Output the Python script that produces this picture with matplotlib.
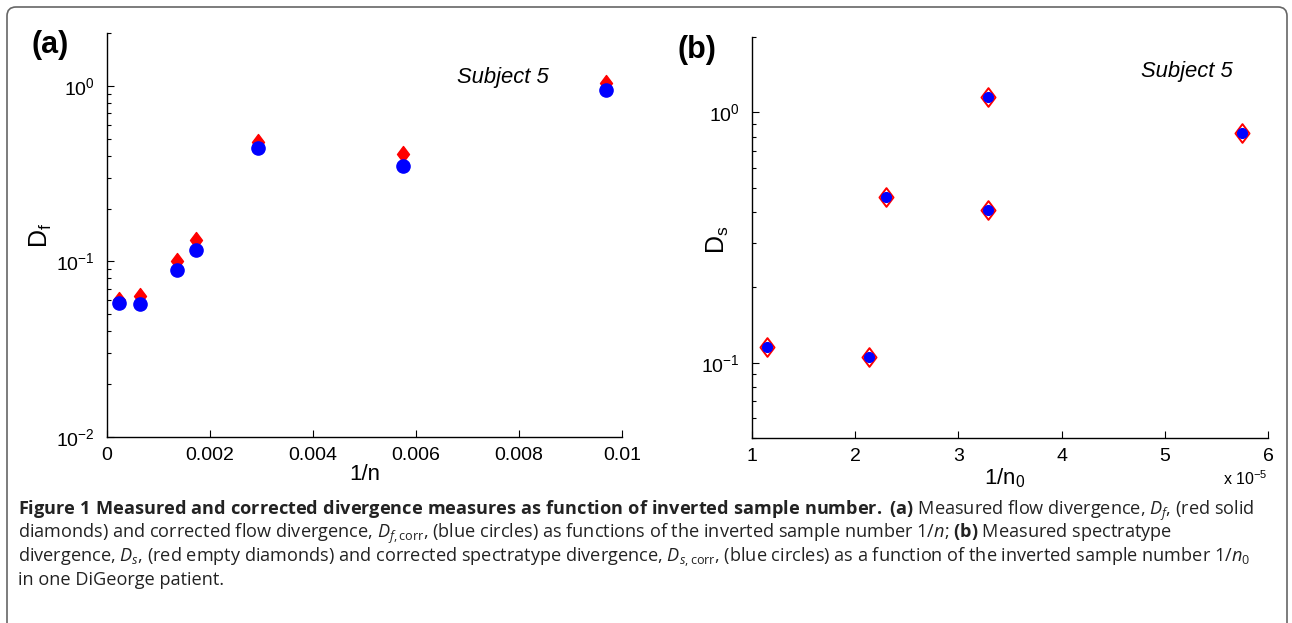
import matplotlib
matplotlib.use("Agg")
import matplotlib.pyplot as plt
from matplotlib.path import Path
from matplotlib.patches import FancyBboxPatch
from matplotlib.transforms import IdentityTransform
from matplotlib.ticker import FixedLocator, FixedFormatter, LogLocator, NullFormatter

plt.rcParams['font.family'] = ['Liberation Sans', 'DejaVu Sans']
plt.rcParams['mathtext.fontset'] = 'custom'
plt.rcParams['mathtext.rm'] = 'Open Sans'
plt.rcParams['mathtext.it'] = 'Open Sans:italic'
plt.rcParams['mathtext.bf'] = 'Open Sans:bold'

# panel (a): flow divergence vs 1/n
inv_n = [0.000225, 0.00064, 0.00136, 0.00172, 0.00293, 0.00574, 0.00969]
df_measured = [0.0602, 0.0638, 0.1009, 0.1323, 0.476, 0.409, 1.033]
df_corrected = [0.0579, 0.0574, 0.0889, 0.1155, 0.445, 0.348, 0.942]
xticks_a = [0, 0.002, 0.004, 0.006, 0.008, 0.01]
xtick_labels_a = ['0', '0.002', '0.004', '0.006', '0.008', '0.01']

# panel (b): spectratype divergence vs 1/n0 (units of 1e-5)
inv_n0 = [1.15, 2.13, 2.30, 3.29, 3.29, 5.75]
ds_measured = [0.1156, 0.1057, 0.4597, 1.151, 0.4089, 0.829]
ds_corrected = [0.1156, 0.1057, 0.4597, 1.151, 0.4089, 0.829]
xticks_b = [1, 2, 3, 4, 5, 6]

W, H = 1292, 623
fig = plt.figure(figsize=(W / 100, H / 100), dpi=100)

# outer frame with rounded corners
frame = FancyBboxPatch((7, -30), 1280, 646, boxstyle="round,pad=0,rounding_size=9",
                       transform=IdentityTransform(), fc='none', ec='#666666', lw=1.2)
fig.patches.append(frame)


def px_axes(left, right, top, bottom):
    return fig.add_axes([left / W, 1 - bottom / H, (right - left) / W, (bottom - top) / H])


diamond = Path([(0, 1), (0.75, 0), (0, -1), (-0.75, 0), (0, 1)], closed=True)


def style_axes(ax):
    ax.set_yscale('log')
    for s in ['top', 'right']:
        ax.spines[s].set_visible(False)
    for s in ['left', 'bottom']:
        ax.spines[s].set_linewidth(1.0)
    ax.tick_params(which='major', direction='in', length=5, width=0.8,
                   labelsize=14, pad=7)
    ax.tick_params(axis='y', which='major', pad=9)
    ax.tick_params(which='minor', direction='in', length=3, width=0.8)
    ax.yaxis.set_minor_locator(LogLocator(base=10, subs=range(2, 10)))
    ax.yaxis.set_minor_formatter(NullFormatter())


# ---- panel (a)
ax1 = px_axes(107, 622, 33, 437)
style_axes(ax1)
ax1.plot(inv_n, df_measured, ls='none', marker=diamond, ms=11.5, color='#ff0000', mec='#ff0000')
ax1.plot(inv_n, df_corrected, ls='none', marker='o', ms=9.5, color='#0000ff', mec='#0000ff')
ax1.set_xlim(0, 0.01)
ax1.set_ylim(0.01, 2.0)
ax1.xaxis.set_major_locator(FixedLocator(xticks_a))
ax1.xaxis.set_major_formatter(FixedFormatter(xtick_labels_a))
ax1.set_yticks([0.01, 0.1, 1])
ax1.set_yticklabels([r'$\mathdefault{10^{-2}}$', r'$\mathdefault{10^{-1}}$', r'$\mathdefault{10^{0}}$'])

fig.text(365 / W, 1 - 475 / H, '1/n', fontsize=16, ha='center', va='center')
fig.text(41 / W, 1 - 235 / H, r'D$_\mathdefault{f}$', fontsize=18, ha='center', va='center', rotation=90)
fig.text(503 / W, 1 - 78 / H, 'Subject 5', fontsize=15.8, style='italic', ha='center', va='center')
fig.text(50 / W, 1 - 45 / H, '(a)', fontsize=22, fontweight='bold', ha='center', va='center')

# ---- panel (b)
ax2 = px_axes(752, 1268, 37, 438)
style_axes(ax2)
ax2.plot(inv_n0, ds_measured, ls='none', marker=diamond, ms=13.5, mfc='none', mec='#ff0000', mew=1.4)
ax2.plot(inv_n0, ds_corrected, ls='none', marker='o', ms=7, color='#0000ff', mec='#0000ff')
ax2.set_xlim(1, 6)
ax2.set_ylim(0.05, 2.0)
ax2.xaxis.set_major_locator(FixedLocator(xticks_b))
ax2.xaxis.set_major_formatter(FixedFormatter([str(t) for t in xticks_b]))
ax2.set_yticks([0.1, 1])
ax2.set_yticklabels([r'$\mathdefault{10^{-1}}$', r'$\mathdefault{10^{0}}$'])

fig.text(1005 / W, 1 - 478 / H, r'1/n$_\mathdefault{0}$', fontsize=16, ha='center', va='center')
fig.text(1245 / W, 1 - 479 / H, r'x 10$^\mathdefault{-5}$', fontsize=11.5, ha='center', va='center')
fig.text(718 / W, 1 - 240 / H, r'D$_\mathdefault{s}$', fontsize=18, ha='center', va='center', rotation=90)
fig.text(1187 / W, 1 - 71 / H, 'Subject 5', fontsize=15.8, style='italic', ha='center', va='center')
fig.text(697 / W, 1 - 50 / H, '(b)', fontsize=22, fontweight='bold', ha='center', va='center')

# ---- caption
caption = [
    r'$\mathbf{Figure\ 1\ Measured\ and\ corrected\ divergence\ measures\ as\ function\ of\ inverted\ sample\ number.\ (a)}$'
    r' Measured flow divergence, $D_f$, (red solid',
    r'diamonds) and corrected flow divergence, $D_{f,\mathrm{corr}}$, (blue circles) as functions of the inverted sample number 1/$n$; '
    r'$\mathbf{(b)}$ Measured spectratype',
    r'divergence, $D_s$, (red empty diamonds) and corrected spectratype divergence, $D_{s,\mathrm{corr}}$, (blue circles) as a function of the inverted sample number 1/$n_0$',
    'in one DiGeorge patient.',
]
for i, line in enumerate(caption):
    fig.text(18 / W, 1 - (511 + 23 * i) / H, line, fontsize=13.05, family='Open Sans',
             color='#222222', ha='left', va='center')

fig.savefig('out.png', dpi=100)
